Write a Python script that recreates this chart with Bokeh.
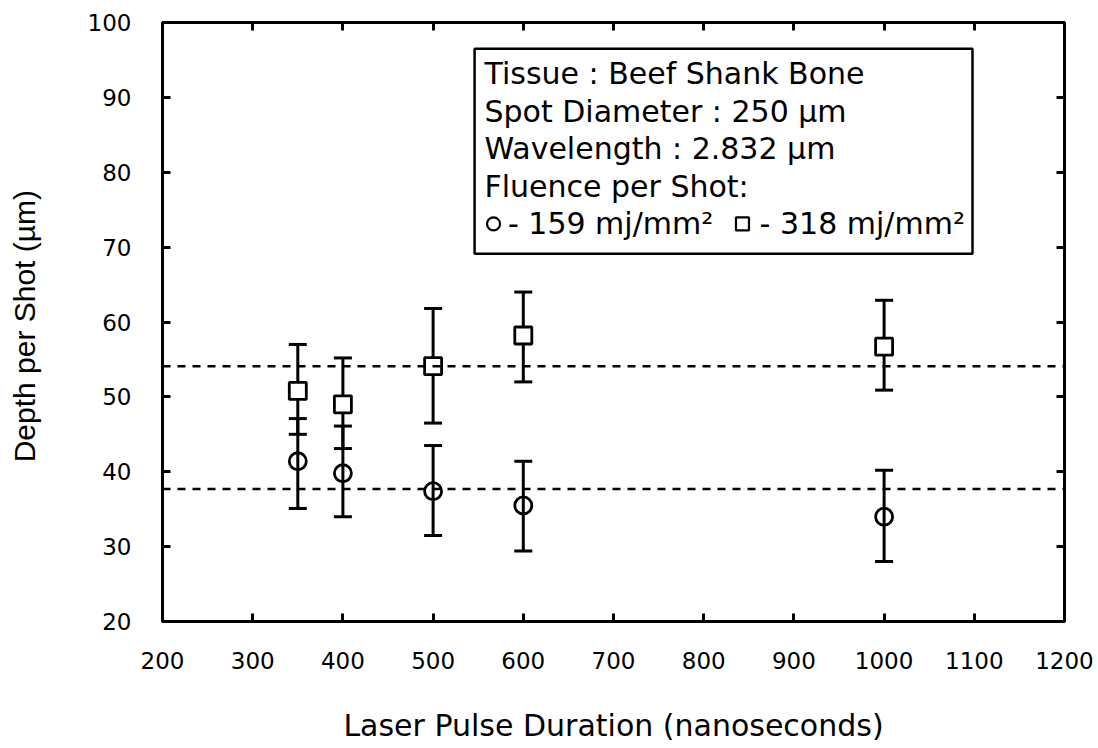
from bokeh.plotting import figure
from bokeh.models import (ColumnDataSource, Whisker, TeeHead, Span, BoxAnnotation,
                          Label, LinearAxis, FixedTicker, Range1d, CustomJSTickFormatter)
from bokeh.embed import file_html
from bokeh.resources import INLINE

# Laser pulse durations (ns)
pulse_ns = [350, 400, 500, 600, 1000]

# 159 mJ/mm^2 series (circles): depth per shot and error-bar limits (um)
low_depth = [41.4, 39.8, 37.4, 35.5, 34.0]
low_upper = [47.1, 46.1, 43.5, 41.4, 40.2]
low_lower = [35.1, 34.0, 31.5, 29.4, 28.0]

# 318 mJ/mm^2 series (squares)
high_depth = [50.8, 49.0, 54.1, 58.2, 56.7]
high_upper = [57.0, 55.2, 61.8, 64.0, 62.9]
high_lower = [45.0, 43.1, 46.5, 52.0, 50.9]

# Series averages shown as dashed reference lines
low_mean = 37.7
high_mean = 54.1

x_ticks = [200, 300, 400, 500, 600, 700, 800, 900, 1000, 1100, 1200]
y_ticks = [20, 30, 40, 50, 60, 70, 80, 90, 100]

info_lines = [
    "Tissue : Beef Shank Bone",
    "Spot Diameter : 250 \u00b5m",
    "Wavelength : 2.832 \u00b5m",
    "Fluence per Shot:",
]
fluence_labels = ["- 159 mj/mm\u00b2", "- 318 mj/mm\u00b2"]

TXT = "DejaVu Sans"

p = figure(width=1098, height=748, output_backend="svg", toolbar_location=None,
           x_range=Range1d(200, 1200), y_range=Range1d(20, 100),
           min_border_left=162, min_border_right=34, min_border_top=22,
           min_border_bottom=127)
p.grid.visible = False
p.outline_line_color = "black"
p.outline_line_width = 3
p.background_fill_color = "white"
p.border_fill_color = "white"


def style_axis(ax, ticks, labels=True):
    ax.ticker = FixedTicker(ticks=ticks)
    ax.axis_line_color = "black"
    ax.axis_line_width = 3
    ax.major_tick_in = 8
    ax.major_tick_out = 0
    ax.major_tick_line_width = 3
    ax.major_tick_line_color = "black"
    ax.minor_tick_line_color = None
    if labels:
        ax.major_label_text_font = TXT
        ax.major_label_text_font_size = "23px"
        ax.major_label_text_color = "black"
    else:
        ax.formatter = CustomJSTickFormatter(code="return ''")
        ax.major_label_standoff = 0


xa = p.xaxis[0]
ya = p.yaxis[0]
style_axis(xa, x_ticks)
style_axis(ya, y_ticks)
xa.major_label_standoff = 30
ya.major_label_standoff = 31
xa.axis_label = "Laser Pulse Duration (nanoseconds)"
xa.axis_label_text_font = TXT
xa.axis_label_text_font_size = "30px"
xa.axis_label_text_font_style = "normal"
xa.axis_label_text_color = "black"
xa.axis_label_standoff = 36
ya.axis_label = "Depth per Shot  (\u00b5m)"
ya.axis_label_text_font = "Liberation Sans"
ya.axis_label_text_font_size = "30px"
ya.axis_label_text_font_style = "normal"
ya.axis_label_text_color = "black"
ya.axis_label_standoff = 44

top_ax = LinearAxis()
right_ax = LinearAxis()
p.add_layout(top_ax, "above")
p.add_layout(right_ax, "right")
style_axis(top_ax, x_ticks, labels=False)
style_axis(right_ax, y_ticks, labels=False)

# Dashed average lines
for m in (high_mean, low_mean):
    p.add_layout(Span(location=m, dimension="width", line_color="black",
                      line_width=2.5, line_dash="8 7"))

src_low = ColumnDataSource(dict(x=pulse_ns, y=low_depth, up=low_upper, lo=low_lower))
src_high = ColumnDataSource(dict(x=pulse_ns, y=high_depth, up=high_upper, lo=high_lower))

for src in (src_high, src_low):
    p.add_layout(Whisker(source=src, base="x", upper="up", lower="lo",
                         dimension="height", line_color="black", line_width=3,
                         upper_head=TeeHead(size=18, line_width=3, line_color="black"),
                         lower_head=TeeHead(size=18, line_width=3, line_color="black")))

p.scatter("x", "y", source=src_high, marker="square", size=17, line_width=2.8,
          line_color="black", fill_color="white")
p.scatter("x", "y", source=src_low, marker="circle", size=17, line_width=2.8,
          line_color="black", fill_color=None)

# Information box (kept beneath the key symbols)
p.add_layout(BoxAnnotation(left=546, right=1098, top=96.5, bottom=69.1,
                           fill_color="white", fill_alpha=1.0,
                           line_color="black", line_width=2.5, line_alpha=1.0,
                           level="underlay"))
line_y = [93.2, 88.1, 83.2, 78.1, 73.1]
for txt, yy in zip(info_lines, line_y[:4]):
    p.add_layout(Label(x=557, y=yy, text=txt, text_font=TXT, text_font_size="30px",
                       text_baseline="middle", text_color="black"))

# Symbol key inside the box
p.scatter([567], [line_y[4]], marker="circle", size=13, line_width=2.2,
          line_color="black", fill_color=None, level="overlay")
p.scatter([843], [line_y[4]], marker="square", size=13, line_width=2.2,
          line_color="black", fill_color=None, level="overlay")
for txt, xx in zip(fluence_labels, [583, 862]):
    p.add_layout(Label(x=xx, y=line_y[4], text=txt, text_font=TXT,
                       text_font_size="30px", text_baseline="middle",
                       text_color="black"))

open("out.html", "w").write(file_html(p, INLINE))
